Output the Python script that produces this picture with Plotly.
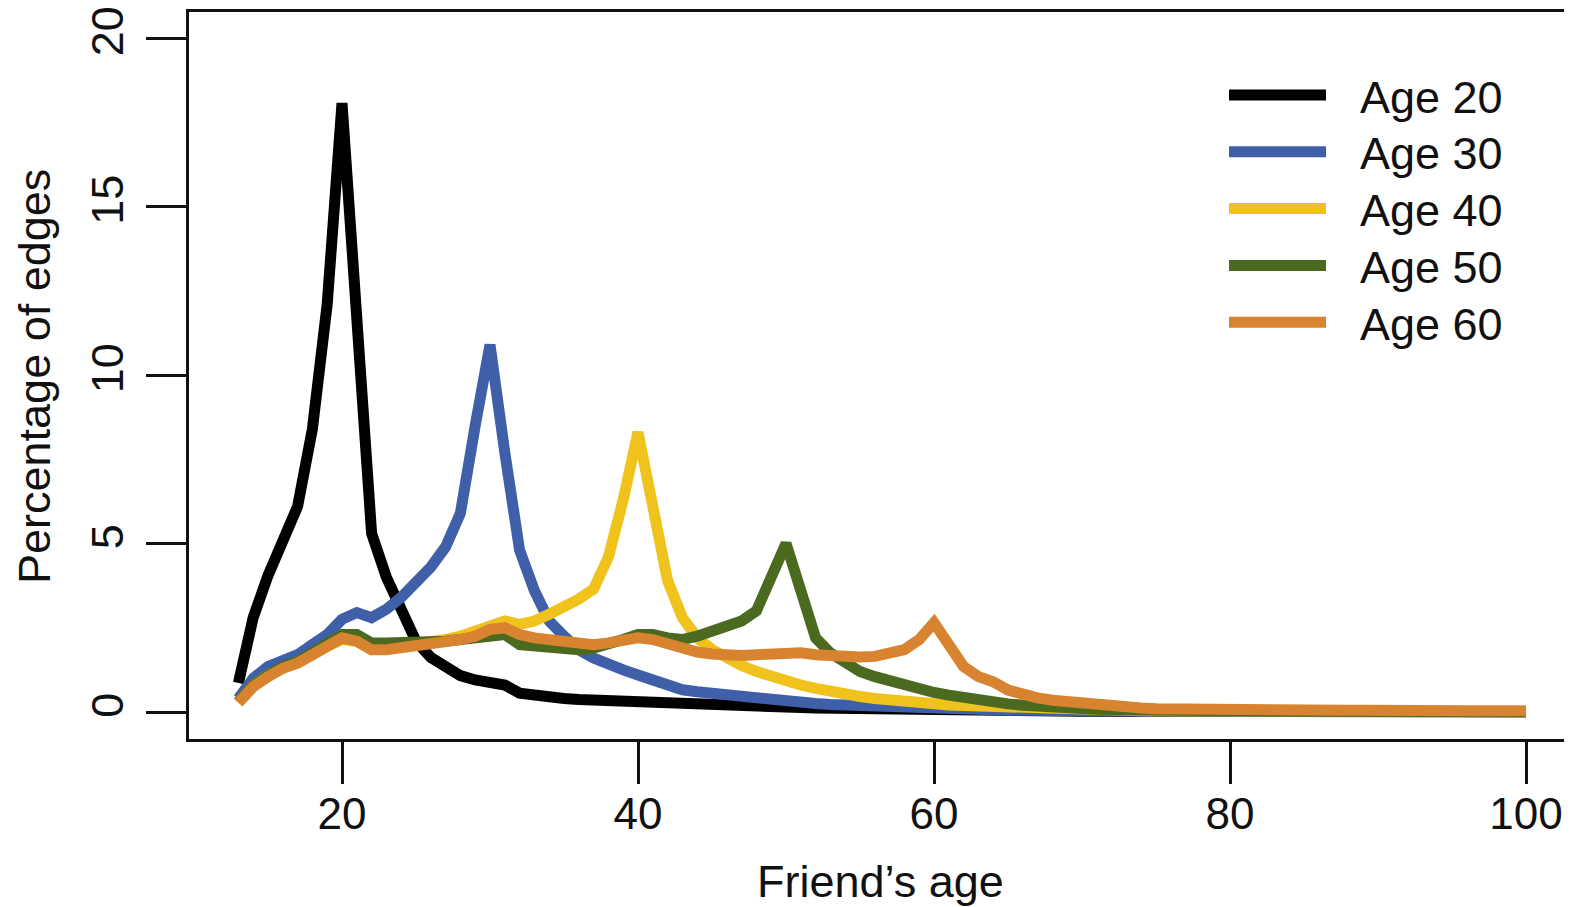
import plotly.graph_objects as go

ages = list(range(13, 101))

age20 = [0.86, 2.8, 4.05, 5.1, 6.1, 8.4, 12.1, 18.07, 11.4, 5.3,
         4.0, 3.0, 2.1, 1.62, 1.3, 1.08, 0.95, 0.9, 0.8, 0.56,
         0.48, 0.44, 0.4, 0.37, 0.35, 0.32, 0.3, 0.3, 0.29, 0.27,
         0.25, 0.22, 0.2, 0.19, 0.18, 0.16, 0.15, 0.14, 0.13, 0.12,
         0.11, 0.1, 0.09, 0.08, 0.07, 0.06, 0.06, 0.05, 0.05, 0.04,
         0.04, 0.03, 0.03, 0.02, 0.02, 0.02, 0.02, 0.02, 0.02, 0.02,
         0.02, 0.02, 0.02, 0.01, 0.01, 0.01, 0.01, 0.01, 0.01, 0.01,
         0.01, 0.01, 0.01, 0.01, 0.01, 0.01, 0.01, 0.01, 0.01, 0.01,
         0.01, 0.01, 0.01, 0.01, 0.01, 0.01, 0.01, 0.01]

age30 = [0.4, 1.0, 1.35, 1.55, 1.7, 2.0, 2.3, 2.75, 2.95, 2.8,
         3.05, 3.4, 3.85, 4.3, 4.9, 5.9, 8.5, 10.9, 7.7, 4.8,
         3.6, 2.7, 2.25, 1.85, 1.6, 1.4, 1.25, 1.1, 0.95, 0.75,
         0.66, 0.6, 0.55, 0.5, 0.44, 0.38, 0.34, 0.3, 0.28, 0.25,
         0.22, 0.2, 0.18, 0.16, 0.14, 0.12, 0.11, 0.1, 0.09, 0.08,
         0.07, 0.06, 0.05, 0.05, 0.04, 0.04, 0.03, 0.03, 0.02, 0.02,
         0.02, 0.02, 0.02, 0.02, 0.02, 0.02, 0.02, 0.02, 0.01, 0.01,
         0.01, 0.01, 0.01, 0.01, 0.01, 0.01, 0.01, 0.01, 0.01, 0.01,
         0.01, 0.01, 0.01, 0.01, 0.01, 0.01, 0.01, 0.01]

age40 = [0.3, 0.8, 1.1, 1.3, 1.45, 1.7, 1.95, 2.15, 2.1, 1.85,
         1.9, 1.95, 2.0, 2.05, 2.15, 2.25, 2.4, 2.6, 2.7, 2.6,
         2.7, 2.9, 3.1, 3.35, 3.65, 4.6, 6.3, 8.3, 6.1, 3.9,
         2.8, 2.2, 1.85, 1.6, 1.38, 1.2, 1.05, 0.92, 0.8, 0.7,
         0.6, 0.52, 0.46, 0.4, 0.35, 0.31, 0.27, 0.24, 0.21, 0.19,
         0.17, 0.15, 0.13, 0.11, 0.1, 0.09, 0.08, 0.07, 0.06, 0.05,
         0.05, 0.04, 0.04, 0.03, 0.03, 0.03, 0.03, 0.03, 0.02, 0.02,
         0.02, 0.02, 0.02, 0.02, 0.02, 0.02, 0.02, 0.02, 0.01, 0.01,
         0.01, 0.01, 0.01, 0.01, 0.01, 0.01, 0.01, 0.01]

age50 = [0.3, 0.8, 1.1, 1.35, 1.5, 1.75, 2.0, 2.3, 2.3, 2.05,
         2.05, 2.05, 2.05, 2.05, 2.1, 2.15, 2.2, 2.3, 2.3, 2.0,
         1.95, 1.9, 1.9, 1.85, 1.9, 2.0, 2.15, 2.3, 2.3, 2.2,
         2.15, 2.25, 2.4, 2.55, 2.7, 3.0, 4.0, 5.0, 3.6, 2.2,
         1.75, 1.45, 1.2, 1.05, 0.92, 0.8, 0.68, 0.58, 0.5, 0.42,
         0.35, 0.29, 0.24, 0.2, 0.16, 0.13, 0.11, 0.09, 0.08, 0.07,
         0.06, 0.05, 0.05, 0.04, 0.04, 0.04, 0.03, 0.03, 0.03, 0.02,
         0.02, 0.02, 0.02, 0.02, 0.02, 0.02, 0.02, 0.02, 0.02, 0.02,
         0.02, 0.02, 0.01, 0.01, 0.01, 0.01, 0.01, 0.01]

age60 = [0.27, 0.75, 1.05, 1.3, 1.45, 1.7, 1.95, 2.2, 2.1, 1.85,
         1.85, 1.9, 1.95, 2.0, 2.05, 2.15, 2.25, 2.45, 2.5, 2.3,
         2.2, 2.15, 2.1, 2.05, 2.0, 2.05, 2.1, 2.2, 2.15, 2.0,
         1.85, 1.78, 1.72, 1.68, 1.68, 1.7, 1.72, 1.78, 1.76, 1.7,
         1.65, 1.63, 1.63, 1.65, 1.72, 1.85, 2.15, 2.65, 2.0, 1.35,
         1.05, 0.9, 0.65, 0.52, 0.42, 0.35, 0.3, 0.26, 0.22, 0.18,
         0.15, 0.12, 0.1, 0.09, 0.08, 0.07, 0.06, 0.05, 0.05, 0.04,
         0.04, 0.04, 0.04, 0.04, 0.04, 0.05, 0.05, 0.06, 0.05, 0.04,
         0.04, 0.04, 0.04, 0.04, 0.04, 0.04, 0.04, 0.04]

series_names = ["Age 20", "Age 30", "Age 40", "Age 50", "Age 60"]
series_values = [age20, age30, age40, age50, age60]
series_colors = ["#000000", "#3f5fa9", "#efc21c", "#4b6a1f", "#d8832f"]

x_ticks = [20, 40, 60, 80, 100]
y_ticks = [0, 5, 10, 15, 20]

# figure geometry (pixels, figure coordinates; page body adds an 8px offset)
W, H = 1564, 899
L, T, B = 181, 4, 168
PW, PH = W - L, H - T - B
FONT = "Liberation Sans, Arial, Helvetica, sans-serif"

# data-to-pixel calibration of the axes
X20_PX, X_PER_UNIT = 334, 14.8
Y0_PX, Y_PER_UNIT = 704, 33.7


def pxx(p):
    return (p - L) / PW


def pxy(p):
    return (T + PH - p) / PH


fig = go.Figure()
for name, vals, col in zip(series_names, series_values, series_colors):
    fig.add_trace(go.Scatter(x=ages, y=vals, mode="lines", name=name,
                             line=dict(color=col, width=11),
                             showlegend=False))

shapes = []
annotations = []
# manual legend (R style)
for i, (name, col) in enumerate(zip(series_names, series_colors)):
    yp = 87 + i * 56.8
    shapes.append(dict(type="line", xref="paper", yref="paper",
                       x0=pxx(1221), x1=pxx(1318), y0=pxy(yp), y1=pxy(yp),
                       line=dict(color=col, width=11)))
    annotations.append(dict(text=name, xref="paper", yref="paper",
                            x=pxx(1350), y=pxy(yp + 2), xanchor="left",
                            yanchor="middle", showarrow=False,
                            font=dict(size=45, color="#111", family=FONT)))

annotations.append(dict(text="Percentage of edges", xref="paper", yref="paper",
                        x=pxx(27), y=pxy(369), textangle=-90,
                        xanchor="center", yanchor="middle", showarrow=False,
                        font=dict(size=45, color="#111", family=FONT)))
annotations.append(dict(text="Friend\u2019s age", xref="paper", yref="paper",
                        x=pxx(872), y=pxy(873),
                        xanchor="center", yanchor="middle", showarrow=False,
                        font=dict(size=45, color="#111", family=FONT)))

fig.update_layout(
    width=W, height=H,
    margin=dict(l=L, r=0, t=T, b=B, autoexpand=False),
    paper_bgcolor="white", plot_bgcolor="white",
    shapes=shapes, annotations=annotations,
    font=dict(family=FONT, color="#111"),
    xaxis=dict(range=[20 - (X20_PX - L) / X_PER_UNIT,
                      20 + (W - X20_PX) / X_PER_UNIT],
               tickvals=x_ticks, ticks="outside", ticklen=42, tickwidth=3,
               tickcolor="#111", showline=True, linecolor="#111", linewidth=3,
               mirror=True, showgrid=False, zeroline=False,
               ticklabelstandoff=-8, ticklabeloverflow="allow",
               tickfont=dict(size=44, color="#111", family=FONT)),
    yaxis=dict(range=[(Y0_PX - (T + PH)) / Y_PER_UNIT, (Y0_PX - T) / Y_PER_UNIT],
               tickvals=y_ticks, ticks="outside", ticklen=40, tickwidth=3,
               tickcolor="#111", showline=True, linecolor="#111", linewidth=3,
               mirror=False, showgrid=False, zeroline=False, tickangle=-90,
               ticklabelstandoff=5, ticklabeloverflow="allow",
               tickfont=dict(size=45, color="#111", family=FONT)),
)

fig.write_html("out.html")
